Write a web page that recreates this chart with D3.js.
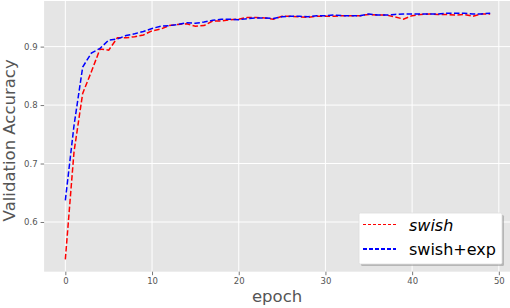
<!DOCTYPE html>
<html>
<head>
<meta charset="utf-8">
<script src="https://cdn.jsdelivr.net/npm/d3@7"></script>
<style>
  body { margin: 0; background: #fff; }
  svg { display: block; font-family: "DejaVu Sans", sans-serif; }
</style>
</head>
<body>
<div id="chart"></div>
<script>

// epochs 0..49
const epochs = d3.range(0, 50);
const xTicks = [0, 10, 20, 30, 40, 50];
const yTicks = [0.6, 0.7, 0.8, 0.9];

// validation accuracy
const swish = [
  0.536, 0.720, 0.820, 0.857, 0.896, 0.894, 0.915, 0.915, 0.917, 0.920,
  0.927, 0.930, 0.936, 0.938, 0.939, 0.935, 0.936, 0.944, 0.944, 0.946,
  0.947, 0.950, 0.950, 0.949, 0.947, 0.952, 0.952, 0.951, 0.950, 0.952,
  0.952, 0.952, 0.953, 0.953, 0.953, 0.955, 0.954, 0.954, 0.951, 0.947,
  0.953, 0.955, 0.956, 0.955, 0.955, 0.954, 0.955, 0.952, 0.956, 0.956
];
const swishExp = [
  0.637, 0.765, 0.865, 0.889, 0.897, 0.911, 0.913, 0.919, 0.922, 0.926,
  0.931, 0.935, 0.936, 0.938, 0.941, 0.940, 0.942, 0.945, 0.947, 0.947,
  0.946, 0.948, 0.949, 0.949, 0.948, 0.951, 0.952, 0.952, 0.951, 0.953,
  0.953, 0.954, 0.953, 0.953, 0.953, 0.956, 0.954, 0.954, 0.955, 0.956,
  0.956, 0.956, 0.956, 0.956, 0.957, 0.957, 0.957, 0.956, 0.956, 0.957
];

const series = [
  {name: "swish", values: swish, color: "#ff0000", italic: true, legendWidth: 1},
  {name: "swish+exp", values: swishExp, color: "#0000ff", italic: false, legendWidth: 2}
];

const W = 510, H = 308;
const plot = {left: 44.1, right: 511.4, top: 1, bottom: 271.7};

const svg = d3.select("#chart").append("svg")
  .attr("width", W)
  .attr("height", H);

// matplotlib style 5% margins around the data
const xExt = d3.extent(epochs);
const xPad = (xExt[1] - xExt[0]) * 0.05;
const x = d3.scaleLinear()
  .domain([xExt[0] - xPad, xExt[1] + xPad])
  .range([plot.left, plot.right]);

const yExt = d3.extent(swish.concat(swishExp));
const yPad = (yExt[1] - yExt[0]) * 0.05;
const y = d3.scaleLinear()
  .domain([yExt[0] - yPad, yExt[1] + yPad])
  .range([plot.bottom, plot.top]);

// grey panel
svg.append("rect")
  .attr("x", plot.left)
  .attr("y", plot.top)
  .attr("width", plot.right - plot.left)
  .attr("height", plot.bottom - plot.top)
  .attr("fill", "#e5e5e5");

// grid lines
const grid = svg.append("g").attr("stroke", "#fff").attr("stroke-width", 1);
grid.selectAll(".gx").data(xTicks).enter().append("line")
  .attr("x1", d => x(d)).attr("x2", d => x(d))
  .attr("y1", plot.top).attr("y2", plot.bottom);
grid.selectAll(".gy").data(yTicks).enter().append("line")
  .attr("x1", plot.left).attr("x2", plot.right)
  .attr("y1", d => y(d)).attr("y2", d => y(d));

// axes
const xAxis = d3.axisBottom(x).tickValues(xTicks).tickSize(3.5).tickPadding(3).tickFormat(d3.format("d"));
const yAxis = d3.axisLeft(y).tickValues(yTicks).tickSize(3.5).tickPadding(3).tickFormat(d3.format(".1f"));

function styleAxis(g) {
  g.select(".domain").remove();
  g.selectAll(".tick line").attr("stroke", "#555").attr("stroke-width", 0.8);
  g.selectAll(".tick text")
    .attr("fill", "#555")
    .style("font-size", "8.5px")
    .style("font-family", "DejaVu Sans, sans-serif");
}

svg.append("g")
  .attr("transform", `translate(0,${plot.bottom})`)
  .call(xAxis)
  .call(styleAxis);

svg.append("g")
  .attr("transform", `translate(${plot.left},0)`)
  .call(yAxis)
  .call(styleAxis);

// axis labels
svg.append("text")
  .attr("x", (plot.left + 510) / 2 + 0)
  .attr("y", 302)
  .attr("text-anchor", "middle")
  .attr("fill", "#555")
  .style("font-size", "16.5px")
  .text("epoch");

svg.append("text")
  .attr("transform", `translate(15,${(plot.top + plot.bottom) / 2 + 4}) rotate(-90)`)
  .attr("text-anchor", "middle")
  .attr("fill", "#555")
  .style("font-size", "16.5px")
  .text("Validation Accuracy");

// clip lines to the panel
svg.append("clipPath").attr("id", "panel")
  .append("rect")
  .attr("x", plot.left).attr("y", plot.top)
  .attr("width", plot.right - plot.left).attr("height", plot.bottom - plot.top);

const line = d3.line()
  .x((d, i) => x(epochs[i]))
  .y(d => y(d));

svg.append("g").attr("clip-path", "url(#panel)")
  .selectAll(".series").data(series).enter().append("path")
  .attr("class", "series")
  .attr("d", d => line(d.values))
  .attr("fill", "none")
  .attr("stroke", d => d.color)
  .attr("stroke-width", 1.5)
  .attr("stroke-dasharray", "5.5,2.4");

// legend box with shadow
const lg = svg.append("g").attr("transform", "translate(359,213)");
lg.append("rect")
  .attr("x", 2).attr("y", 2)
  .attr("width", 143).attr("height", 51)
  .attr("rx", 1.5)
  .attr("fill", "#888").attr("opacity", 0.5);
lg.append("rect")
  .attr("width", 143).attr("height", 51)
  .attr("rx", 1.5)
  .attr("fill", "#fff")
  .attr("stroke", "#ddd")
  .attr("stroke-width", 0.8);

const items = lg.selectAll(".item").data(series).enter().append("g")
  .attr("class", "item")
  .attr("transform", (d, i) => `translate(0,${11.5 + i * 24.5})`);

items.append("line")
  .attr("x1", 4).attr("x2", 37)
  .attr("stroke", d => d.color)
  .attr("stroke-width", d => d.legendWidth)
  .attr("stroke-dasharray", d => d.legendWidth > 1 ? "4,2" : "3,2");

items.append("text")
  .attr("x", 50)
  .attr("y", 6)
  .attr("fill", "#000")
  .style("font-size", "16px")
  .style("font-style", d => d.italic ? "italic" : "normal")
  .text(d => d.name);

</script>
</body>
</html>
